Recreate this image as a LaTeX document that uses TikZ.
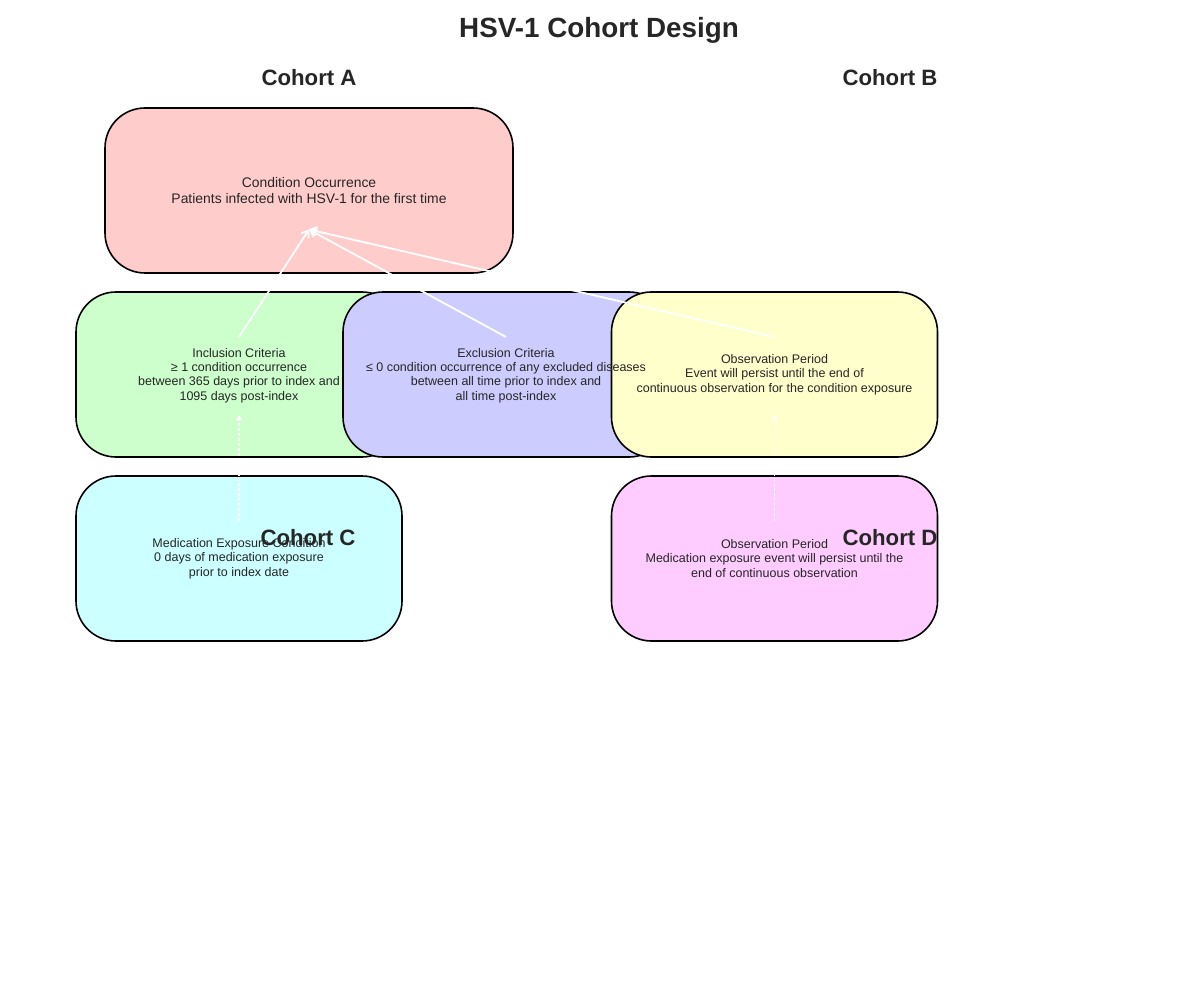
\documentclass[tikz,border=0pt]{standalone}
\usepackage{fontspec}
\setmainfont{Liberation Sans}
\usetikzlibrary{arrows.meta}
\definecolor{inkgray}{HTML}{262626}
\definecolor{pinkfill}{HTML}{FFCCCC}
\definecolor{greenfill}{HTML}{CCFFCC}
\definecolor{bluefill}{HTML}{CCCCFF}
\definecolor{yellowfill}{HTML}{FFFFCC}
\definecolor{cyanfill}{HTML}{CCFFFF}
\definecolor{magentafill}{HTML}{FFCCFF}

\begin{document}
\begin{tikzpicture}[x=1pt,y=-1pt,
    cohortbox/.style={draw=black, line width=1.6pt, rounded corners=40pt,
        minimum width=326pt, minimum height=165pt, inner sep=0pt},
    boxtext/.style={align=center, text=inkgray, inner sep=0pt,
        font=\fontsize{12.5}{14.4}\selectfont},
    cohortname/.style={text=inkgray, font=\fontsize{22.2}{26}\selectfont\bfseries},
    linkarrow/.style={draw=white, line width=1.8pt, -{Straight Barb[length=6pt,width=9pt]}},
    dasharrow/.style={draw=white, line width=1.2pt, dashed, dash pattern=on 3pt off 2pt,
        -{Straight Barb[length=4pt,width=6pt]}}]

    \useasboundingbox (0,0) rectangle (1200,1000);

    \node[text=inkgray, font=\fontsize{27.8}{32}\selectfont\bfseries] (title) at (599,30) {HSV-1 Cohort Design};

    % boxes
    \node[cohortbox, fill=pinkfill, minimum width=408pt] (cond) at (309,190.5) {};
    \node[cohortbox, fill=greenfill] (incl) at (239,374.5) {};
    \node[cohortbox, fill=bluefill] (excl) at (506,374.5) {};
    \node[cohortbox, fill=yellowfill] (obs) at (774.5,374.5) {};
    \node[cohortbox, fill=cyanfill] (med) at (239,558.5) {};
    \node[cohortbox, fill=magentafill] (medobs) at (774.5,558.5) {};

    % box texts, on top of all boxes
    \node[boxtext, font=\fontsize{13.9}{15.7}\selectfont] (condtext) at (cond)
        {Condition Occurrence\\Patients infected with HSV-1 for the first time};
    \node[boxtext] (incltext) at ([yshift=-1pt]incl.center)
        {Inclusion Criteria\\≥ 1 condition occurrence\\between 365 days prior to index and\\1095 days post-index};
    \node[boxtext] (excltext) at ([yshift=-1pt]excl.center)
        {Exclusion Criteria\\≤ 0 condition occurrence of any excluded diseases\\between all time prior to index and\\all time post-index};
    \node[boxtext] (obstext) at (obs)
        {Observation Period\\Event will persist until the end of\\continuous observation for the condition exposure};
    \node[boxtext] (medtext) at (med)
        {Medication Exposure Condition\\0 days of medication exposure\\prior to index date};
    \node[boxtext] (medobstext) at (medobs)
        {Observation Period\\Medication exposure event will persist until the\\end of continuous observation};

    % arrow ends
    \coordinate (condin) at ([yshift=-39pt]cond.center);
    \foreach \src in {incl,excl,obs}{
        \coordinate (\src out) at ([yshift=37.5pt]\src.center);
        \draw[linkarrow] (\src out) -- (condin);
    }
    \coordinate (medout) at ([yshift=38pt]med.center);
    \coordinate (inclin) at ([yshift=-41pt]incl.center);
    \coordinate (medobsout) at ([yshift=38pt]medobs.center);
    \coordinate (obsin) at ([yshift=-41pt]obs.center);
    \draw[dasharrow] (medout) -- (inclin);
    \draw[dasharrow] (medobsout) -- (obsin);

    % cohort labels
    \node[cohortname] (cohA) at (309,78) {Cohort A};
    \node[cohortname] (cohB) at (890,78) {Cohort B};
    \node[cohortname] (cohC) at (308,538) {Cohort C};
    \node[cohortname] (cohD) at (890,538) {Cohort D};

\end{tikzpicture}
\end{document}
